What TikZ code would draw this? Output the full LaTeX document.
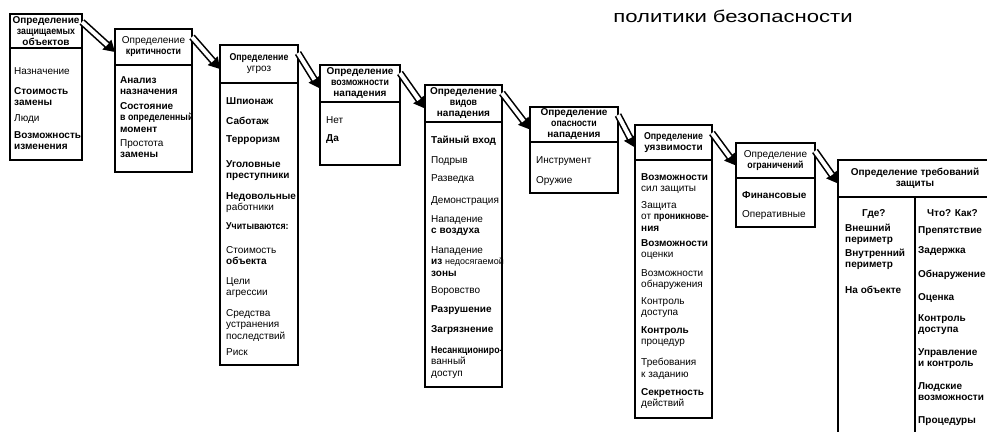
\documentclass[tikz,border=0pt]{standalone}
\usepackage{fontspec}
\setmainfont{Liberation Sans}
\newfontface\eng{Liberation Sans Bold}[FakeStretch=0.88]
\newfontface\breit{Liberation Sans}[FakeStretch=1.3]
\usetikzlibrary{arrows.meta,positioning}

\begin{document}
\begin{tikzpicture}[>={Triangle[length=11pt,width=13pt]},x=1pt,y=-1pt,
  kopf/.style={draw,line width=1.8pt,outer sep=0pt,inner sep=0pt,anchor=north west,
    align=center,font=\fontsize{10}{11}\selectfont\bfseries},
  rumpf/.style={draw,line width=1.8pt,outer sep=0pt,inner sep=0pt,below=0pt of #1},
  punkt/.style={anchor=north west,yshift=4pt,inner sep=0pt,align=left,
    font=\fontsize{10}{11.5}\selectfont},
  spitze/.style={->,line width=1.6pt},
  pfeil/.style={double,double distance=4pt,line width=1.6pt,shorten >=10.5pt}]
  \useasboundingbox (0,0) rectangle (987,431);
  % Titel
  \node[anchor=base,font=\fontsize{17}{20}\selectfont\breit] (titel) at (733,23)
    {политики безопасности};
  % Kopfzeilen
  \node[kopf,minimum width=72,minimum height=34] (h1) at (10,14)
    {Определение\\{\eng защищаемых}\\объектов};
  \node[kopf,minimum width=77,minimum height=36] (h2) at (115,29)
    {{\mdseries Определение}\\{\eng критичности}};
  \node[kopf,minimum width=78,minimum height=38] (h3) at (220,45)
    {{\eng Определение}\\{\mdseries угроз}};
  \node[kopf,minimum width=80,minimum height=37] (h4) at (320,65)
    {Определение\\{\eng возможности}\\нападения};
  \node[kopf,minimum width=77,minimum height=37] (h5) at (425,85)
    {Определение\\{\eng видов}\\нападения};
  \node[kopf,minimum width=88,minimum height=35] (h6) at (530,107)
    {Определение\\{\eng опасности}\\нападения};
  \node[kopf,minimum width=77,minimum height=35] (h7) at (635,125)
    {{\eng Определение}\\уязвимости};
  \node[kopf,minimum width=79,minimum height=35] (h8) at (736,143)
    {{\mdseries Определение}\\{\eng ограничений}};
  \node[kopf,minimum width=154,minimum height=37] (h9) at (838,160)
    {Определение требований\\защиты};
  % Spalten
  \node[rumpf=h1,minimum width=72,minimum height=112] (r1) {};
  \node[rumpf=h2,minimum width=77,minimum height=107] (r2) {};
  \node[rumpf=h3,minimum width=78,minimum height=282] (r3) {};
  \node[rumpf=h4,minimum width=80,minimum height=63] (r4) {};
  \node[rumpf=h5,minimum width=77,minimum height=265] (r5) {};
  \node[rumpf=h6,minimum width=88,minimum height=51] (r6) {};
  \node[rumpf=h7,minimum width=77,minimum height=258] (r7) {};
  \node[rumpf=h8,minimum width=79,minimum height=49] (r8) {};
  \node[rumpf=h9,minimum width=154,minimum height=260] (r9) {};
  \draw[line width=1.8pt] ([xshift=77pt]r9.north west) -- ([xshift=77pt]r9.south west);
  % Pfeile
  \foreach \a/\b in {h1/h2,h2/h3,h3/h4,h4/h5,h5/h6,h6/h7,h7/h8,h8/h9} {
    \draw[spitze] ([yshift=-8pt]\a.north east) -- ([yshift=-5pt]\b.west);
    \draw[pfeil] ([yshift=-8pt]\a.north east) -- ([yshift=-5pt]\b.west);
  }
  % Inhalte
  \foreach \y/\t [count=\i] in {71/Назначение, 91/{\textbf{Стоимость}\\\textbf{замены}},
      118/Люди, 135/{\textbf{Возможность}\\\textbf{изменения}}}
    \node[punkt] (zo\i) at (14,\y) {\t};
  \foreach \y/\t [count=\i] in {80/{\textbf{Анализ}\\\textbf{назначения}},
      106/{\textbf{Состояние}\\{\eng в определенный}\\\textbf{момент}},
      143/{Простота\\\textbf{замены}}}
    \node[punkt] (kr\i) at (120,\y) {\t};
  \foreach \y/\t [count=\i] in {101/\textbf{Шпионаж}, 121/\textbf{Саботаж},
      139/\textbf{Терроризм}, 164/{\textbf{Уголовные}\\\textbf{преступники}},
      196/{\textbf{Недовольные}\\работники}, 226/{\eng Учитываются:},
      250/{Стоимость\\\textbf{объекта}}, 281/{Цели\\агрессии},
      313/{Средства\\устранения\\последствий}, 352/Риск}
    \node[punkt] (ug\i) at (226,\y) {\t};
  \foreach \y/\t [count=\i] in {120/Нет, 138/\textbf{Да}}
    \node[punkt] (mo\i) at (326,\y) {\t};
  \foreach \y/\t [count=\i] in {140/\textbf{Тайный вход}, 160/Подрыв, 178/Разведка,
      200/Демонстрация, 219/{Нападение\\\textbf{с воздуха}},
      250/{Нападение\\\textbf{из} {\fontsize{9}{11}\selectfont недосягаемой}\\\textbf{зоны}},
      290/Воровство, 309/\textbf{Разрушение}, 329/\textbf{Загрязнение},
      350/{{\eng Несанкциониро-}\\ванный\\доступ}}
    \node[punkt] (vi\i) at (431,\y) {\t};
  \foreach \y/\t [count=\i] in {160/Инструмент, 180/Оружие}
    \node[punkt] (op\i) at (536,\y) {\t};
  \foreach \y/\t [count=\i] in {177/{\textbf{Возможности}\\сил защиты},
      205/{Защита\\от {\eng проникнове-}\\\textbf{ния}},
      243/{\textbf{Возможности}\\оценки}, 273/{Возможности\\обнаружения},
      301/{Контроль\\доступа}, 330/{\textbf{Контроль}\\процедур},
      362/{Требования\\к заданию}, 392/{\textbf{Секретность}\\действий}}
    \node[punkt] (uz\i) at (641,\y) {\t};
  \foreach \y/\t [count=\i] in {195/\textbf{Финансовые}, 214/Оперативные}
    \node[punkt] (og\i) at (742,\y) {\t};
  \node[punkt,font=\fontsize{10}{11}\selectfont\bfseries] (wo) at (862,213) {Где?};
  \node[punkt,font=\fontsize{10}{11}\selectfont\bfseries] (wie) at (927,213) {Что? Как?};
  \foreach \y/\t [count=\i] in {228/{Внешний\\периметр}, 253/{Внутренний\\периметр},
      290/На объекте}
    \node[punkt,font=\fontsize{10}{11}\selectfont\bfseries] (tl\i) at (845,\y) {\t};
  \foreach \y/\t [count=\i] in {230/Препятствие, 250/Задержка, 274/Обнаружение,
      297/Оценка, 318/{Контроль\\доступа}, 352/{Управление\\и контроль},
      386/{Людские\\возможности}, 420/Процедуры}
    \node[punkt,font=\fontsize{10}{11}\selectfont\bfseries] (tr\i) at (918,\y) {\t};
\end{tikzpicture}
\end{document}
